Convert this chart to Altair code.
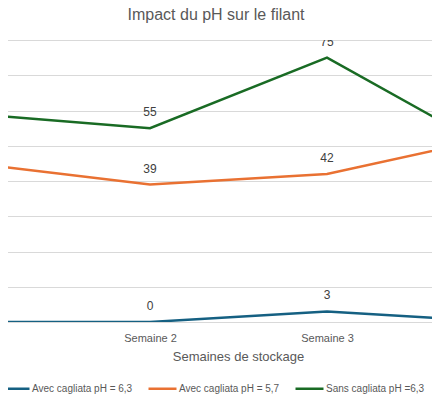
import altair as alt
import pandas as pd

weeks = ["Semaine 1", "Semaine 2", "Semaine 3", "Semaine 4"]
series = ["Avec cagliata pH = 6,3", "Avec cagliata pH = 5,7", "Sans cagliata pH =6,3"]
ph63 = [0, 0, 3, 0]
ph57 = [45, 39, 42, 53]
sans = [59, 55, 75, 47]
colors = ["#156082", "#E97132", "#196B24"]

rows = []
for s, vals in zip(series, [ph63, ph57, sans]):
    for w, v in zip(weeks, vals):
        rows.append({"Semaine": w, "Serie": s, "Valeur": v})
df = pd.DataFrame(rows)

FONT = "Liberation Sans"
GRAY = "#595959"

x = alt.X(
    "Semaine:N",
    sort=weeks,
    scale=alt.Scale(type="point", domain=weeks, range=[-35, 496], padding=0),
    axis=alt.Axis(
        title="Semaines de stockage", domain=False, ticks=False, grid=False,
        labelAngle=0, labelPadding=10, labelFontSize=11, labelColor=GRAY,
        labelFont=FONT, titleFont=FONT, titleFontSize=13, titleColor=GRAY,
        titleFontWeight="normal", titleX=230, titlePadding=7,
    ),
)
y = alt.Y(
    "Valeur:Q",
    scale=alt.Scale(domain=[0, 80], nice=False),
    axis=alt.Axis(
        title=None, values=list(range(0, 81, 10)), labels=False, ticks=False,
        domain=False, grid=True, gridColor="#d9d9d9", gridWidth=1,
    ),
)
color = alt.Color(
    "Serie:N",
    scale=alt.Scale(domain=series, range=colors),
    legend=alt.Legend(
        title=None, orient="none", legendX=-8, legendY=333, direction="horizontal",
        symbolType="stroke", symbolSize=784, symbolStrokeWidth=2.5,
        labelFontSize=10, labelColor=GRAY, labelFont=FONT, columnPadding=10,
        labelOffset=1,
    ),
)

lines = alt.Chart(df).mark_line(strokeWidth=2.5, clip=True).encode(x=x, y=y, color=color)
labels = alt.Chart(df).mark_text(dy=-16, fontSize=12, color="#404040", font=FONT, clip=True).encode(
    x=x, y=y, text="Valeur:Q"
)

chart = (
    alt.layer(lines, labels)
    .properties(
        width=424,
        height=282,
        title=alt.TitleParams(
            "Impact du pH sur le filant", fontSize=16, font=FONT, color=GRAY,
            fontWeight="normal", anchor="middle", offset=17, dx=-4,
        ),
        autosize=alt.AutoSizeParams(type="none"),
        padding={"left": 0, "top": 32, "right": 0, "bottom": 76},
        background="white",
    )
    .configure_view(stroke=None)
)

chart.save("out.html", embed_options={"renderer": "svg", "actions": False})
